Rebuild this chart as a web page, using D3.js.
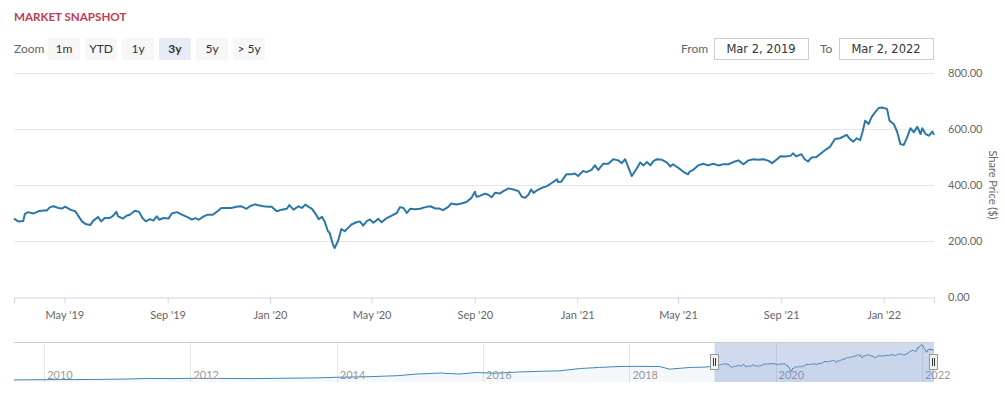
<!DOCTYPE html>
<html>
<head>
<meta charset="utf-8">
<script src="https://cdn.jsdelivr.net/npm/d3@7"></script>
<style>
body{margin:0;background:#fff;}
text{font-family:Lato,"Open Sans",sans-serif;}
</style>
</head>
<body>
<svg id="chart" width="1005" height="393"></svg>
<script>
// closes; day numbers count from Mar 2, 2019
const priceStart = "2019-03-02";
const dayNums = [0,5,11,13,17,23,29,35,39,43,47,53,57,61,67,73,77,81,85,91,94,100,104,108,114,118,122,124,130,134,
  138,144,149,153,157,162,166,170,173,178,184,188,194,200,206,212,216,220,226,231,237,241,247,253,259,265,271,277,281,287,
  291,297,303,307,313,319,325,328,333,339,343,347,351,355,359,363,367,370,374,376,380,382,386,390,394,398,402,408,412,416,
  420,424,428,434,438,444,450,456,460,464,468,472,478,484,490,496,502,507,511,517,521,527,533,539,545,549,551,555,561,565,
  569,573,579,583,589,595,601,605,609,613,616,619,623,629,635,641,647,648,652,658,664,668,672,678,682,688,692,696,702,708,
  714,720,724,728,732,736,740,744,746,750,754,758,762,766,772,778,782,785,791,797,803,805,809,815,821,827,833,839,845,851,
  857,863,869,875,881,887,893,899,903,909,913,919,925,928,932,938,942,946,950,956,960,966,972,978,984,992,996,1000,1004,1008,
  1011,1014,1018,1022,1026,1030,1034,1040,1043,1048,1052,1056,1060,1064,1068,1072,1076,1080,1082,1086,1090,1094,1096];
const closes = [280,270,271,297,303,298,306,309,309,321,324,318,316,323,312,306,288,270,261,257,271,286,270,282,282,290,304,288,280,290,
  294,308,304,282,270,278,273,288,276,282,280,298,303,294,286,276,282,276,288,294,294,303,318,318,318,322,324,315,324,331,
  328,324,322,322,306,312,315,328,312,324,318,330,322,315,298,278,286,270,235,229,187,175,200,243,235,247,259,267,270,255,
  270,277,265,279,267,282,291,300,321,318,300,315,313,315,321,324,316,316,310,321,334,330,334,339,354,376,358,361,369,365,
  356,372,370,378,388,384,378,358,354,366,384,372,381,390,396,408,420,411,412,438,438,441,432,450,446,454,470,454,476,476,
  492,488,478,492,462,432,450,470,480,470,482,470,486,492,490,480,466,474,462,448,438,448,454,470,476,470,476,470,474,474,
  482,488,474,488,492,490,492,486,478,492,503,502,504,513,502,510,492,484,498,500,510,524,536,564,567,579,564,555,567,560,
  591,630,618,644,660,675,677,672,630,618,591,546,543,570,603,588,608,582,603,582,576,591,579];

// older history shown only in the navigator
const histDates = ["2009-08-03","2010-01-01","2010-06-01","2010-10-01","2011-03-01","2011-06-01","2011-10-01",
  "2012-01-01","2012-06-01","2012-11-01","2013-03-01","2013-07-01","2013-10-01","2014-01-01","2014-06-01",
  "2014-11-01","2015-02-01","2015-06-01","2015-09-01","2015-12-01","2016-03-01","2016-07-01","2016-11-01",
  "2017-01-15","2017-05-01","2017-08-01","2017-11-15","2018-02-01","2018-06-01","2018-07-20","2018-11-01","2019-01-15"];
const histPrices = [20,25,27,30,38,48,45,50,48,45,50,55,60,70,80,100,130,150,130,160,145,170,185,
  190,235,255,273,275,273,223,255,262];

const zoomButtons = ["1m","YTD","1y","3y","5y","> 5y"];
const activeButton = "3y";
const yTicks = [0,200,400,600,800];
const fromText = "Mar 2, 2019", toText = "Mar 2, 2022";
const navStart = "2009-08-03", rangeEnd = "2022-03-02";

const parse = d3.timeParse("%Y-%m-%d");
let t0 = parse(priceStart);
let series = closes.map((v,i)=>({date:d3.timeDay.offset(t0,dayNums[i]),value:v}));
let hist = histDates.map((d,i)=>({date:parse(d),value:histPrices[i]}));
let navSeries = hist.concat(series);

let svg = d3.select("#chart");
let pLeft=14, pRight=934, pTop=73, pBottom=297;

// header
svg.append("text").attr("x",14).attr("y",21).text("MARKET SNAPSHOT")
  .style("font-size","11.6px").style("font-weight","700").style("fill","#c23b4e");

svg.append("text").attr("x",14).attr("y",53).text("Zoom").style("font-size","12px").style("fill","#666");
let btn = svg.selectAll(".btn").data(zoomButtons).enter().append("g").attr("class","btn")
  .attr("transform",(d,i)=>"translate("+(48+i*37)+",38)");
btn.append("rect").attr("width",32).attr("height",22).attr("rx",2)
  .attr("fill",d=>d==activeButton?"#e6ebf5":"#f7f7f7");
btn.append("text").attr("x",16).attr("y",15).attr("text-anchor","middle").text(d=>d)
  .style("font-size","12px").style("fill","#333").style("font-weight",d=>d==activeButton?"700":"400");

function dateBox(label,lx,bx,txt){
  svg.append("text").attr("x",lx).attr("y",53).text(label).style("font-size","12px").style("fill","#666");
  svg.append("rect").attr("x",bx+0.5).attr("y",38.5).attr("width",94).attr("height",21).attr("fill","#fff").attr("stroke","#ccc");
  svg.append("text").attr("x",bx+47).attr("y",53).attr("text-anchor","middle").text(txt)
    .style("fill","#333").style("font-family","'DejaVu Sans',sans-serif").style("font-size","11.5px");
}
dateBox("From",681,714,fromText);
dateBox("To",820,839,toText);

// main chart
let x = d3.scaleTime().domain([t0,parse(rangeEnd)]).range([pLeft,pRight]);
let y = d3.scaleLinear().domain([0,800]).range([pBottom,pTop]);

svg.append("g").selectAll("line").data(yTicks.slice(1)).enter().append("line")
  .attr("x1",pLeft).attr("x2",pRight).attr("y1",d=>Math.round(y(d))+0.5).attr("y2",d=>Math.round(y(d))+0.5)
  .attr("stroke","#e6e6e6");

let xAxis = d3.axisBottom(x).ticks(d3.timeMonth.every(4)).tickFormat(d3.timeFormat("%b '%y")).tickSizeOuter(0).tickSize(6);
let gx = svg.append("g").attr("transform","translate(0,"+(pBottom+0.5)+")").call(xAxis);
gx.select(".domain").attr("stroke","#ccd6eb");
gx.selectAll(".tick line").attr("stroke","#ccd6eb");
gx.selectAll(".tick text").attr("y",14).style("font-size","11px").style("fill","#666").style("font-family","Lato,sans-serif");

let yAxis = d3.axisRight(y).tickValues(yTicks).tickFormat(d3.format(".2f")).tickSize(0);
let gy = svg.append("g").attr("transform","translate(948,0)").call(yAxis);
gy.select(".domain").remove();
gy.selectAll(".tick text").attr("x",0).style("font-size","11px").style("fill","#666").style("font-family","Lato,sans-serif");

svg.append("text").attr("transform","translate(989,"+((pTop+pBottom)/2)+") rotate(90)")
  .attr("text-anchor","middle").text("Share Price ($)").style("font-size","11px").style("fill","#666");

let line = d3.line().x(d=>x(d.date)).y(d=>y(d.value));
svg.append("path").datum(series).attr("d",line).attr("fill","none")
  .attr("stroke","#2b78a6").attr("stroke-width",2).attr("stroke-linejoin","round");

// navigator
let nTop=342, nBot=382;
let nx = d3.scaleTime().domain([parse(navStart),parse(rangeEnd)]).range([pLeft,pRight]);
let ny = d3.scaleLinear().domain([0,d3.max(navSeries,d=>d.value)]).range([nBot-1,nTop+3]);

let yearTicks = nx.ticks(d3.timeYear.every(2));
svg.append("g").selectAll("line").data(yearTicks).enter().append("line")
  .attr("x1",d=>Math.round(nx(d))+0.5).attr("x2",d=>Math.round(nx(d))+0.5)
  .attr("y1",nTop).attr("y2",nBot).attr("stroke","#e6e6e6");

svg.append("path").datum(navSeries)
  .attr("d",d3.area().x(d=>nx(d.date)).y0(nBot).y1(d=>ny(d.value)))
  .attr("fill","#4a8fc0").attr("fill-opacity",0.06);
svg.append("path").datum(navSeries)
  .attr("d",d3.line().x(d=>nx(d.date)).y(d=>ny(d.value)))
  .attr("fill","none").attr("stroke","#3f87b8").attr("stroke-width",1);

svg.append("g").selectAll("text").data(yearTicks).enter().append("text")
  .attr("x",d=>nx(d)+3).attr("y",379).text(d3.timeFormat("%Y"))
  .style("font-size","11px").style("fill","#999");

let m0 = nx(t0), m1 = nx(parse(rangeEnd));
svg.append("rect").attr("x",m0).attr("y",nTop).attr("width",m1-m0).attr("height",nBot-nTop)
  .attr("fill","rgb(102,133,194)").attr("fill-opacity",0.3);
svg.append("line").attr("x1",pLeft).attr("x2",pRight).attr("y1",nTop+0.5).attr("y2",nTop+0.5).attr("stroke","#ccc");

[m0,m1].forEach(h=>{
  let g = svg.append("g").attr("transform","translate("+Math.round(h)+",354)");
  g.append("rect").attr("x",-4.5).attr("y",0.5).attr("width",8).attr("height",15).attr("fill","#f2f2f2").attr("stroke","#999");
  g.append("line").attr("x1",-1.5).attr("x2",-1.5).attr("y1",4).attr("y2",12).attr("stroke","#333");
  g.append("line").attr("x1",0.5).attr("x2",0.5).attr("y1",4).attr("y2",12).attr("stroke","#333");
});
</script>
</body>
</html>
